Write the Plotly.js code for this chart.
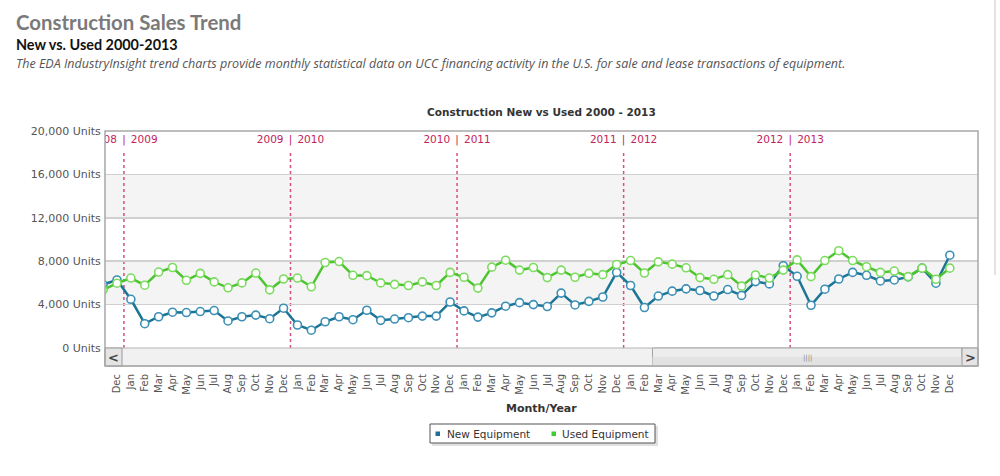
<!DOCTYPE html>
<html><head><meta charset="utf-8">
<script src="https://cdn.plot.ly/plotly-3.0.1.min.js"></script>
<style>html,body{margin:0;padding:0;background:#fff;} #chart{width:1000px;height:476px;}</style>
</head><body><div id="chart"></div>
<script>
// Month labels: Nov 2008 .. Dec 2013
const months = ['Nov','Dec',
 'Jan','Feb','Mar','Apr','May','Jun','Jul','Aug','Sep','Oct','Nov','Dec',
 'Jan','Feb','Mar','Apr','May','Jun','Jul','Aug','Sep','Oct','Nov','Dec',
 'Jan','Feb','Mar','Apr','May','Jun','Jul','Aug','Sep','Oct','Nov','Dec',
 'Jan','Feb','Mar','Apr','May','Jun','Jul','Aug','Sep','Oct','Nov','Dec',
 'Jan','Feb','Mar','Apr','May','Jun','Jul','Aug','Sep','Oct','Nov','Dec'];
const newEquip = [5850,6270,
 4490,2240,2880,3300,3270,3360,3450,2490,2880,3030,2700,3670,
 2120,1640,2420,2880,2610,3480,2550,2670,2790,2940,2940,4240,
 3420,2850,3240,3850,4180,4000,3820,5060,3970,4300,4700,6970,
 5760,3730,4790,5240,5450,5300,4790,5390,4850,6120,5910,7580,
 6610,3940,5420,6360,6970,6700,6180,6270,6550,7360,5970,8550];
const usedEquip = [5350,5970,
 6450,5790,7000,7420,6240,6880,6090,5550,6000,6910,5360,6360,
 6450,5640,7880,7970,6700,6670,6000,5860,5760,6090,5760,6970,
 6520,5520,7450,8090,7180,7420,6490,7180,6520,6880,6760,7700,
 8060,6910,7940,7730,7390,6490,6330,6760,5700,6730,6450,7180,
 8120,6580,8060,8970,8060,7490,6970,7090,6580,7360,6330,7360];
const leftYears = ['2008','2009','2010','2011','2012'];
const rightYears = ['2009','2010','2011','2012','2013'];
const yTickVals = [0,4000,8000,12000,16000,20000];
const yTickText = ['0 Units','4,000 Units','8,000 Units','12,000 Units','16,000 Units','20,000 Units'];
const seriesNames = ['New Equipment','Used Equipment'];
const chartTitle = 'Construction New vs Used 2000 - 2013';
const xTitle = 'Month/Year';

const xIdx = months.map((m,i)=>i);
const seps = [];
months.forEach((m,i)=>{ if(m==='Dec' && months[i+1]==='Jan') seps.push(i+0.5); });

const FONT = 'DejaVu Sans, Verdana, sans-serif';
const blueLine = '#1b7595', blueMk = '#3c8fb5';
const greenLine = '#4cc530', greenMk = '#7ddc5f';
const crimson = '#c2245c';
const yLab = 19120;

const traces = [
 {x:xIdx, y:newEquip, type:'scatter', mode:'lines+markers', name:seriesNames[0], showlegend:false,
  line:{color:blueLine, width:2.5}, marker:{size:8, color:'#ffffff', line:{color:blueMk, width:1.6}}, cliponaxis:true},
 {x:xIdx, y:usedEquip, type:'scatter', mode:'lines+markers', name:seriesNames[1], showlegend:false,
  line:{color:greenLine, width:2.5}, marker:{size:8, color:'#ffffff', line:{color:greenMk, width:1.6}}, cliponaxis:true},
 {x:seps.map(s=>s-0.5), y:seps.map(()=>yLab), type:'scatter', mode:'text', text:leftYears, textposition:'middle left',
  textfont:{family:FONT, size:10.5, color:crimson}, showlegend:false, hoverinfo:'skip', cliponaxis:true},
 {x:seps, y:seps.map(()=>yLab), type:'scatter', mode:'text', text:seps.map(()=>'|'), textposition:'middle center',
  textfont:{family:FONT, size:10.5, color:crimson}, showlegend:false, hoverinfo:'skip', cliponaxis:true},
 {x:seps.map(s=>s+0.5), y:seps.map(()=>yLab), type:'scatter', mode:'text', text:rightYears, textposition:'middle right',
  textfont:{family:FONT, size:10.5, color:crimson}, showlegend:false, hoverinfo:'skip', cliponaxis:true}
];

function py(p){ return (348 - p)/217; }
function px(p){ return (p - 105)/873; }

const shapes = [
 {type:'rect', xref:'paper', yref:'y', x0:0, x1:1, y0:4000, y1:8000, fillcolor:'#f4f4f4', line:{width:0}, layer:'below'},
 {type:'rect', xref:'paper', yref:'y', x0:0, x1:1, y0:12000, y1:16000, fillcolor:'#f4f4f4', line:{width:0}, layer:'below'}
];
seps.forEach(s=>shapes.push({type:'line', xref:'x', yref:'paper', x0:s, x1:s, y0:0, y1:py(150),
  line:{color:'#d4507e', width:1.5, dash:'dot'}, layer:'between'}));
// scrollbar
shapes.push({type:'rect', xref:'paper', yref:'paper', x0:0, x1:1, y0:py(366), y1:0, fillcolor:'#f1f1f1', line:{color:'#b5b5b5', width:1}, layer:'above'});
shapes.push({type:'rect', xref:'paper', yref:'paper', x0:0, x1:px(122), y0:py(366), y1:0, fillcolor:'#e4e4e4', line:{color:'#9a9a9a', width:1}, layer:'above'});
shapes.push({type:'rect', xref:'paper', yref:'paper', x0:px(652.5), x1:px(962), y0:py(366), y1:0, fillcolor:'#ededed', line:{color:'#a5a5a5', width:1}, layer:'above'});
shapes.push({type:'rect', xref:'paper', yref:'paper', x0:px(652.5), x1:px(962), y0:py(366), y1:py(357), fillcolor:'#e2e2e2', line:{width:0}, layer:'above'});
shapes.push({type:'rect', xref:'paper', yref:'paper', x0:px(962), x1:1, y0:py(366), y1:0, fillcolor:'#e4e4e4', line:{color:'#9a9a9a', width:1}, layer:'above'});
// frame
shapes.push({type:'rect', xref:'paper', yref:'paper', x0:0, x1:1, y0:py(366), y1:1, fillcolor:'rgba(0,0,0,0)', line:{color:'#a8a8a8', width:1.5}, layer:'above'});
// page border
shapes.push({type:'line', xref:'paper', yref:'paper', x0:px(995), x1:px(995), y0:py(275), y1:py(0), line:{color:'#e2e2e2', width:2}, layer:'above'});
// legend box (shadow + box + swatches)
shapes.push({type:'rect', xref:'paper', yref:'paper', x0:px(432), x1:px(658), y0:py(446), y1:py(426), fillcolor:'rgba(0,0,0,0.12)', line:{width:0}, layer:'above'});
shapes.push({type:'rect', xref:'paper', yref:'paper', x0:px(430), x1:px(655), y0:py(443), y1:py(424), fillcolor:'#ffffff', line:{color:'#555555', width:1}, layer:'above'});
shapes.push({type:'rect', xref:'paper', yref:'paper', x0:px(435.5), x1:px(440), y0:py(436), y1:py(431.5), fillcolor:'#1f6f96', line:{width:0}, layer:'above'});
shapes.push({type:'rect', xref:'paper', yref:'paper', x0:px(551.5), x1:px(556), y0:py(436), y1:py(431.5), fillcolor:'#3ccf2c', line:{width:0}, layer:'above'});

const annotations = [
 {xref:'paper', yref:'paper', x:px(14), y:py(22), xanchor:'left', yanchor:'middle', showarrow:false,
  text:'<b>Construction Sales Trend</b>', font:{family:'Lato, sans-serif', size:20.4, color:'#7a7a7a'}},
 {xref:'paper', yref:'paper', x:px(14), y:py(45), xanchor:'left', yanchor:'middle', showarrow:false,
  text:'<b>New vs. Used 2000-2013</b>', font:{family:'Lato, sans-serif', size:14.4, color:'#111111'}},
 {xref:'paper', yref:'paper', x:px(14), y:py(63), xanchor:'left', yanchor:'middle', showarrow:false,
  text:'<i>The EDA IndustryInsight trend charts provide monthly statistical data on UCC financing activity in the U.S. for sale and lease transactions of equipment.</i>',
  font:{family:'Open Sans, sans-serif', size:12.5, color:'#555555'}},
 {xref:'paper', yref:'paper', x:0.5, y:py(112), xanchor:'center', yanchor:'middle', showarrow:false,
  text:'<b>'+chartTitle+'</b>', font:{family:FONT, size:10.5, color:'#333333'}},
 {xref:'paper', yref:'paper', x:px(541), y:py(408), xanchor:'center', yanchor:'middle', showarrow:false,
  text:'<b>'+xTitle+'</b>', font:{family:FONT, size:11, color:'#333333'}},
 {xref:'paper', yref:'paper', x:px(113.5), y:py(357.5), xanchor:'center', yanchor:'middle', showarrow:false,
  text:'<b>&lt;</b>', font:{family:FONT, size:13, color:'#444444'}},
 {xref:'paper', yref:'paper', x:px(970), y:py(357.5), xanchor:'center', yanchor:'middle', showarrow:false,
  text:'<b>&gt;</b>', font:{family:FONT, size:13, color:'#444444'}},
 {xref:'paper', yref:'paper', x:px(807), y:py(357.5), xanchor:'center', yanchor:'middle', showarrow:false,
  text:'||||', font:{family:FONT, size:7, color:'#888888'}},
 {xref:'paper', yref:'paper', x:px(445), y:py(433.5), xanchor:'left', yanchor:'middle', showarrow:false,
  text:seriesNames[0], font:{family:FONT, size:10.5, color:'#333333'}},
 {xref:'paper', yref:'paper', x:px(560), y:py(433.5), xanchor:'left', yanchor:'middle', showarrow:false,
  text:seriesNames[1], font:{family:FONT, size:10.5, color:'#333333'}}
];

const layout = {
 width:1000, height:476,
 margin:{l:105, r:22, t:131, b:128},
 paper_bgcolor:'#ffffff', plot_bgcolor:'#ffffff',
 showlegend:false,
 xaxis:{range:[0.137, 63.03], tickmode:'array', tickvals:xIdx, ticktext:months, tickangle:-90,
  ticks:'outside', ticklen:21, tickcolor:'rgba(0,0,0,0)', showgrid:false, zeroline:false, showline:false,
  tickfont:{family:FONT, size:10, color:'#555555'}, fixedrange:true},
 yaxis:{range:[0,20000], tickmode:'array', tickvals:yTickVals, ticktext:yTickText,
  showgrid:true, gridcolor:'#d0d0d0', gridwidth:1.5, zeroline:false, showline:false,
  ticks:'outside', ticklen:1, tickcolor:'rgba(0,0,0,0)',
  tickfont:{family:FONT, size:11, color:'#555555'}, fixedrange:true},
 shapes:shapes, annotations:annotations
};

Plotly.newPlot('chart', traces, layout, {displayModeBar:false, staticPlot:true});
</script>
</body></html>
